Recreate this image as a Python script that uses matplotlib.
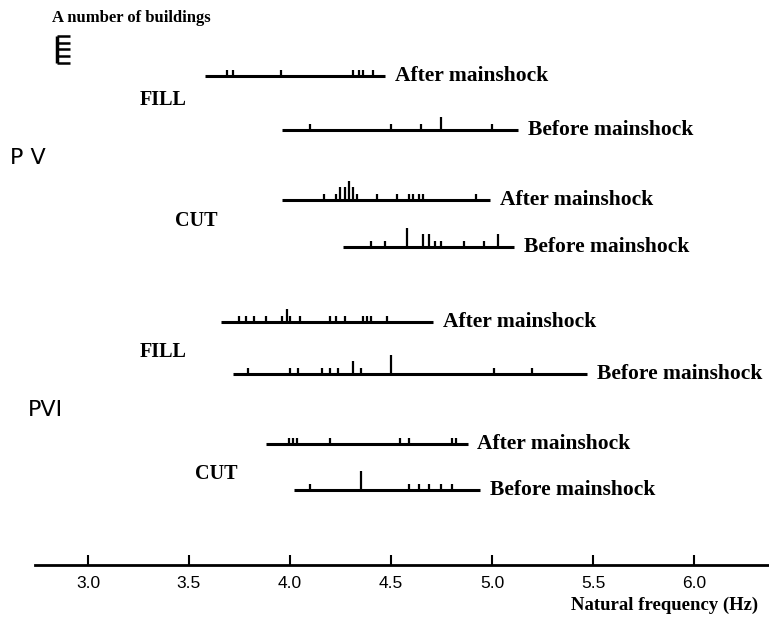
"""
Natural frequency distribution of PV / PVI buildings, before and after mainshock.
Each vertical tick = number of buildings at that frequency.
"""
import numpy as np
import matplotlib
import matplotlib.pyplot as plt

matplotlib.use('Agg')

# --- data (Hz, building counts) ---
pv_fill_after_freq = [3.69, 3.72, 3.955, 4.31, 4.34, 4.36, 4.41]
pv_fill_after_count = [1, 1, 1, 1, 1, 1, 1]
pv_fill_after_range = (3.58, 4.47)

pv_fill_before_freq = [4.10, 4.50, 4.65, 4.75, 5.00]
pv_fill_before_count = [1, 1, 1, 2, 1]
pv_fill_before_range = (3.96, 5.13)

pv_cut_after_freq = [4.17, 4.23, 4.25, 4.27, 4.29, 4.31, 4.33, 4.43, 4.53, 4.59, 4.61, 4.64, 4.66, 4.92]
pv_cut_after_count = [1, 1, 2, 2, 3, 2, 1, 1, 1, 1, 1, 1, 1, 1]
pv_cut_after_range = (3.96, 4.99)

pv_cut_before_freq = [4.40, 4.47, 4.58, 4.66, 4.69, 4.72, 4.75, 4.86, 4.96, 5.03]
pv_cut_before_count = [1, 1, 3, 2, 2, 1, 1, 1, 1, 2]
pv_cut_before_range = (4.26, 5.11)

pvi_fill_after_freq = [3.75, 3.78, 3.82, 3.88, 3.96, 3.985, 4.0, 4.05, 4.20, 4.23, 4.27, 4.36, 4.38, 4.40, 4.48]
pvi_fill_after_count = [1, 1, 1, 1, 1, 2, 1, 1, 1, 1, 1, 1, 1, 1, 1]
pvi_fill_after_range = (3.66, 4.71)

pvi_fill_before_freq = [3.79, 4.0, 4.04, 4.16, 4.20, 4.24, 4.31, 4.35, 4.50, 5.01, 5.20]
pvi_fill_before_count = [1, 1, 1, 1, 1, 1, 2, 1, 3, 1, 1]
pvi_fill_before_range = (3.72, 5.47)

pvi_cut_after_freq = [3.995, 4.015, 4.035, 4.20, 4.545, 4.59, 4.80, 4.82]
pvi_cut_after_count = [1, 1, 1, 1, 1, 1, 1, 1]
pvi_cut_after_range = (3.88, 4.88)

pvi_cut_before_freq = [4.10, 4.35, 4.59, 4.64, 4.69, 4.75, 4.80]
pvi_cut_before_count = [1, 3, 1, 1, 1, 1, 1]
pvi_cut_before_range = (4.02, 4.94)

x_ticks = [3.0, 3.5, 4.0, 4.5, 5.0, 5.5, 6.0]
row_labels = ['After mainshock', 'Before mainshock'] * 4
group_labels = ['FILL', 'CUT', 'FILL', 'CUT']
type_labels = ['P V', 'PVI']

SERIF = 'Liberation Serif'
UNIT = 6.5  # height of one building in layout units (pixels)

fig = plt.figure(figsize=(7.69, 6.23), dpi=100)
# axes spans x-pixels 35..769, bottom spine at pixel row 565
ax = fig.add_axes([35 / 769, 58 / 623, 734 / 769, 565 / 623])
ax.set_xlim(2.738, 6.371)
ax.set_ylim(0, 565)
for side in ('left', 'right', 'top'):
    ax.spines[side].set_visible(False)
ax.spines['bottom'].set_linewidth(2.0)
ax.set_yticks([])
ax.set_xticks(x_ticks)
ax.set_xticklabels([f'{t:.1f}' for t in x_ticks], family='Liberation Sans', fontsize=12.5)
ax.tick_params(axis='x', direction='in', length=7, width=1.5, pad=8)

rows = [
    (pv_fill_after_freq, pv_fill_after_count, pv_fill_after_range),
    (pv_fill_before_freq, pv_fill_before_count, pv_fill_before_range),
    (pv_cut_after_freq, pv_cut_after_count, pv_cut_after_range),
    (pv_cut_before_freq, pv_cut_before_count, pv_cut_before_range),
    (pvi_fill_after_freq, pvi_fill_after_count, pvi_fill_after_range),
    (pvi_fill_before_freq, pvi_fill_before_count, pvi_fill_before_range),
    (pvi_cut_after_freq, pvi_cut_after_count, pvi_cut_after_range),
    (pvi_cut_before_freq, pvi_cut_before_count, pvi_cut_before_range),
]
row_pix = [76, 130, 200, 247, 322, 374, 444, 490]

for (freq, count, (lo, hi)), ypix, label in zip(rows, row_pix, row_labels):
    y = 565 - ypix
    ax.hlines(y, lo, hi, color='black', lw=2.2)
    ax.vlines(freq, y, y + np.array(count) * UNIT, color='black', lw=1.6)
    ax.annotate(label, (hi, y), xytext=(7, 0), textcoords='offset points',
                ha='left', va='center', family=SERIF, weight='bold', fontsize=15.5)

# group labels (pixel positions)
for text, (px, py) in zip(group_labels, [(140, 100), (175, 221), (140, 352), (195, 474)]):
    fig.text(px / 769, 1 - py / 623, text, ha='left', va='center',
             family=SERIF, weight='bold', fontsize=14.5)
for text, (px, py) in zip(type_labels, [(10, 158), (28, 410)]):
    fig.text(px / 769, 1 - py / 623, text, ha='left', va='center',
             family='DejaVu Sans', fontsize=16)

# scale comb: one step = one building
fig.text(52 / 769, 1 - 18 / 623, 'A number of buildings', ha='left', va='center',
         family=SERIF, weight='bold', fontsize=12)
comb_x0, comb_x1 = 2.847, 2.911
comb_y = 565 - 63 + np.arange(5) * 6.8
ax.vlines(comb_x0, comb_y[0], comb_y[-1], color='black', lw=2.5)
ax.hlines(comb_y, comb_x0, comb_x1, color='black', lw=1.8)

fig.text(758 / 769, 1 - 605 / 623, 'Natural frequency (Hz)', ha='right', va='center',
         family=SERIF, weight='bold', fontsize=13.5)

fig.savefig('out.png', dpi=100)
